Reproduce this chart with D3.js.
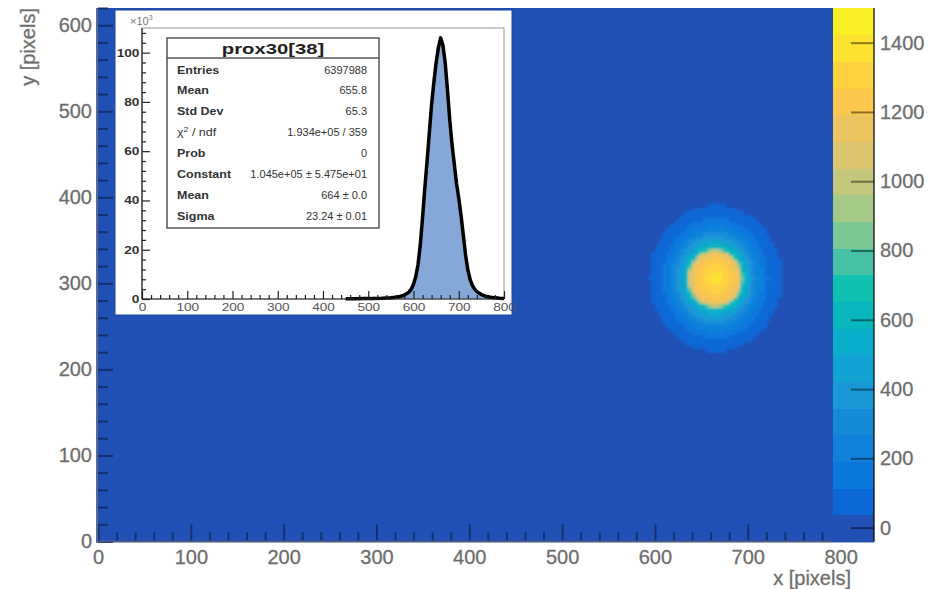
<!DOCTYPE html>
<html>
<head>
<meta charset="utf-8">
<script src="https://cdn.jsdelivr.net/npm/d3@7"></script>
<style>
  body { margin: 0; background: #fff; }
  svg { display: block; }
  text { font-family: "Liberation Sans", Arial, sans-serif; }
</style>
</head>
<body>
<svg id="chart"></svg>
<script>
// main 2D histogram
const xTicks = [0, 100, 200, 300, 400, 500, 600, 700, 800];
const yTicks = [0, 100, 200, 300, 400, 500, 600];
const zTicks = [0, 200, 400, 600, 800, 1000, 1200, 1400];
const paletteColors = [
  '#2151b5', '#0b67d5', '#0b78dd', '#1082db', '#158bd8',
  '#1a98d6', '#10a3d2', '#0aaecb', '#08b7be', '#10c0b0',
  '#47c1a5', '#7bc895', '#a5c987', '#c4c67c', '#dcc470',
  '#ecc460', '#fcc84e', '#fdd240', '#fde232', '#faf026'
];
// spot contours: count level, half width (x) and half height (y) in pixels
const spotCenter = [665, 306];
const spotLevels = [75, 150, 230, 300, 380, 460, 540, 610, 690, 770, 850, 920, 1000, 1080, 1160, 1240, 1320, 1390];
const spotRx = [71, 57, 50, 45, 41, 37.5, 34.5, 32, 30.5, 29.5, 29, 28.5, 28, 27.5, 26, 22, 15, 7];
const spotRy = [85, 70, 61, 55, 50, 45, 41, 38, 35.5, 34, 33.5, 33, 32.5, 32, 30, 25, 17, 8];

// inset: x projection (x10^3)
const histX = [450, 470, 490, 510, 530, 550, 560, 570, 580, 590, 595, 600, 605, 610, 615, 620, 625, 630,
  635, 640, 645, 650, 655, 660, 665, 670, 675, 680, 685, 690, 695, 700, 705, 710, 715, 720, 725, 730,
  735, 740, 750, 760, 770, 780, 790, 800];
const histY = [0.1, 0.1, 0.2, 0.2, 0.3, 0.5, 0.7, 1.0, 1.6, 2.8, 4.0, 6, 9, 14, 22, 33, 45, 56,
  67.5, 79, 88, 96, 102, 106, 103, 96, 85, 73, 63, 55, 47, 41, 34, 26, 18, 12, 8, 5.5,
  4, 3, 1.8, 1.1, 0.7, 0.5, 0.3, 0.2];
const insetXTicks = [0, 100, 200, 300, 400, 500, 600, 700, 800];
const insetYTicks = [0, 20, 40, 60, 80, 100];

const statTitle = 'prox30[38]';
const statNames = ['Entries', 'Mean', 'Std Dev', 'chi2', 'Prob', 'Constant', 'Mean', 'Sigma'];
const statValues = ['6397988', '655.8', '65.3', '1.934e+05 / 359', '0',
  '1.045e+05 \u00b1 5.475e+01', '664 \u00b1 0.0', '23.24 \u00b1 0.01'];

const W = 938, H = 589;
const svg = d3.select('#chart').attr('width', W).attr('height', H);
svg.append('rect').attr('width', W).attr('height', H).attr('fill', '#fff');

const defs = svg.append('defs');
defs.append('filter').attr('id', 'soft')
  .attr('x', '-20%').attr('y', '-20%').attr('width', '140%').attr('height', '140%')
  .append('feGaussianBlur').attr('stdDeviation', 1.1);

const frame = { left: 98, right: 874, top: 8, bottom: 541.5 };
const xScale = d3.scaleLinear().domain([0, 836]).range([frame.left, frame.right]);
const yScale = d3.scaleLinear().domain([0, 620]).range([frame.bottom, frame.top]);
const zScale = d3.scaleQuantize().domain([-40, 1500]).range(paletteColors);

// frame filled with the lowest palette colour (empty bins)
svg.append('rect')
  .attr('x', frame.left).attr('y', frame.top)
  .attr('width', frame.right - frame.left).attr('height', frame.bottom - frame.top)
  .attr('fill', zScale(0));

// spot bins
const bin = 4;
const cells = [];
for (let x = 560; x < 772; x += bin) {
  for (let y = 212; y < 404; y += bin) {
    const dx = x + bin / 2 - spotCenter[0], dy = y + bin / 2 - spotCenter[1];
    let v = null;
    spotLevels.forEach((lv, k) => {
      if ((dx / spotRx[k]) ** 2 + (dy / spotRy[k]) ** 2 <= 1) v = lv;
    });
    if (v !== null) cells.push({ x, y, v });
  }
}
svg.append('g').attr('shape-rendering', 'crispEdges').attr('filter', 'url(#soft)')
  .selectAll('rect').data(cells).enter().append('rect')
  .attr('x', d => xScale(d.x))
  .attr('y', d => yScale(d.y + bin))
  .attr('width', d => xScale(d.x + bin) - xScale(d.x) + 0.4)
  .attr('height', d => yScale(d.y) - yScale(d.y + bin) + 0.4)
  .attr('fill', d => zScale(d.v));

// main axes, ticks inside the frame
const tickCol = '#14306c';
const labelCol = '#6e6e6e';

function styleAxis(g, col, width) {
  g.select('.domain').remove();
  g.selectAll('line').attr('stroke', col).attr('stroke-width', width);
}

const xMinor = d3.range(0, 837, 20).filter(v => v % 100 !== 0);
const yMinor = d3.range(0, 621, 20).filter(v => v % 100 !== 0);

const gxMinor = svg.append('g').attr('transform', `translate(0,${frame.bottom})`)
  .call(d3.axisBottom(xScale).tickValues(xMinor).tickSize(-9).tickFormat(''));
styleAxis(gxMinor, tickCol, 2);
const gx = svg.append('g').attr('transform', `translate(0,${frame.bottom})`)
  .call(d3.axisBottom(xScale).tickValues(xTicks).tickSize(-17).tickPadding(8).tickFormat(d3.format('d')));
styleAxis(gx, tickCol, 2);

const gyMinor = svg.append('g').attr('transform', `translate(${frame.left},0)`)
  .call(d3.axisLeft(yScale).tickValues(yMinor).tickSize(-10).tickFormat(''));
styleAxis(gyMinor, tickCol, 2);
const gy = svg.append('g').attr('transform', `translate(${frame.left},0)`)
  .call(d3.axisLeft(yScale).tickValues(yTicks).tickSize(-15).tickPadding(6).tickFormat(d3.format('d')));
styleAxis(gy, tickCol, 2);

[gx, gy].forEach(g => g.selectAll('text')
  .attr('fill', labelCol).attr('font-size', 20).attr('stroke', labelCol).attr('stroke-width', 0.3)
  .attr('font-family', '"Liberation Sans", Arial, sans-serif'));

svg.append('line').attr('x1', frame.left - 1).attr('x2', frame.left - 1)
  .attr('y1', frame.top).attr('y2', frame.bottom + 1)
  .attr('stroke', '#5b6a94').attr('stroke-width', 2);
svg.append('line').attr('x1', frame.left - 2).attr('x2', frame.right)
  .attr('y1', frame.bottom).attr('y2', frame.bottom)
  .attr('stroke', '#4a5888').attr('stroke-width', 2);

svg.append('text').attr('x', 851).attr('y', 585).attr('text-anchor', 'end')
  .attr('font-size', 20).attr('fill', labelCol).attr('stroke', labelCol).attr('stroke-width', 0.3)
  .text('x [pixels]');
svg.append('text').attr('transform', 'translate(35,8) rotate(-90)').attr('text-anchor', 'end')
  .attr('font-size', 20).attr('fill', labelCol).attr('stroke', labelCol).attr('stroke-width', 0.3)
  .text('y [pixels]');

// colour bar
const cScale = d3.scaleLinear().domain([-40, 1500]).range([frame.bottom, frame.top]);
const edges = [-40, ...zScale.thresholds(), 1500];
svg.append('g').attr('shape-rendering', 'crispEdges')
  .selectAll('rect').data(paletteColors).enter().append('rect')
  .attr('x', 833).attr('width', 41)
  .attr('y', (d, i) => cScale(edges[i + 1]))
  .attr('height', (d, i) => cScale(edges[i]) - cScale(edges[i + 1]) + 0.5)
  .attr('fill', d => d);
const gz = svg.append('g').attr('transform', 'translate(874,0)')
  .call(d3.axisRight(cScale).tickValues(zTicks).tickSize(-23).tickPadding(6).tickFormat(d3.format('d')));
styleAxis(gz, 'rgba(0,0,0,0.45)', 2);
gz.selectAll('text').attr('fill', labelCol).attr('font-size', 20)
  .attr('stroke', labelCol).attr('stroke-width', 0.3)
  .attr('font-family', '"Liberation Sans", Arial, sans-serif');
svg.append('line').attr('x1', 874).attr('x2', 874).attr('y1', frame.top).attr('y2', frame.bottom)
  .attr('stroke', 'rgba(0,0,0,0.6)').attr('stroke-width', 2);

// ---- inset pad ----
const inset = svg.append('g');
inset.append('rect').attr('x', 115).attr('y', 10).attr('width', 397).attr('height', 305)
  .attr('fill', '#fff').attr('stroke', '#1c45a2').attr('stroke-width', 1);

const ix = d3.scaleLinear().domain([0, 800]).range([142, 504]);
const iy = d3.scaleLinear().domain([0, 110]).range([299, 28]);

inset.append('rect').attr('x', 142).attr('y', 28).attr('width', 362).attr('height', 271)
  .attr('fill', 'none').attr('stroke', '#999').attr('stroke-width', 1);

const area = d3.area().x((d, i) => ix(histX[i])).y0(iy(0)).y1(d => iy(d));
const line = d3.line().x((d, i) => ix(histX[i])).y(d => iy(d));
inset.append('path').datum(histY).attr('d', area).attr('fill', '#86a8d9');
inset.append('path').datum(histY).attr('d', line)
  .attr('fill', 'none').attr('stroke', '#000').attr('stroke-width', 3.5).attr('stroke-linejoin', 'round');

const ixMinor = d3.range(0, 801, 20).filter(v => v % 100 !== 0);
const iyMinor = d3.range(0, 109, 4).filter(v => v % 20 !== 0);

const igxm = inset.append('g').attr('transform', 'translate(0,299)')
  .call(d3.axisBottom(ix).tickValues(ixMinor).tickSize(-4).tickFormat(''));
styleAxis(igxm, '#222', 1.2);
const igx = inset.append('g').attr('transform', 'translate(0,299)')
  .call(d3.axisBottom(ix).tickValues(insetXTicks).tickSize(-8).tickPadding(5).tickFormat(d3.format('d')));
styleAxis(igx, '#222', 1.2);
const igym = inset.append('g').attr('transform', 'translate(142,0)')
  .call(d3.axisLeft(iy).tickValues(iyMinor).tickSize(-4).tickFormat(''));
styleAxis(igym, '#222', 1.2);
const igy = inset.append('g').attr('transform', 'translate(142,0)')
  .call(d3.axisLeft(iy).tickValues(insetYTicks).tickSize(-8).tickPadding(2).tickFormat(d3.format('d')));
styleAxis(igy, '#222', 1.2);
igy.selectAll('text')
  .attr('fill', '#333').attr('font-size', 10.5).attr('font-weight', 'bold')
  .attr('font-family', '"Liberation Sans", Arial, sans-serif')
  .attr('transform', 'scale(1.3,1)');
igx.selectAll('text')
  .attr('fill', '#555').attr('font-size', 10.5)
  .attr('font-family', '"Liberation Sans", Arial, sans-serif')
  .attr('transform', 'scale(1.3,1)');

inset.append('line').attr('x1', 142).attr('x2', 504).attr('y1', 299).attr('y2', 299)
  .attr('stroke', '#222').attr('stroke-width', 1.2);
inset.append('line').attr('x1', 142).attr('x2', 142).attr('y1', 28).attr('y2', 299)
  .attr('stroke', '#222').attr('stroke-width', 1.2);

const expo = inset.append('text').attr('x', 130).attr('y', 25).attr('font-size', 11).attr('fill', '#777');
expo.append('tspan').text('\u00d710');
expo.append('tspan').attr('font-size', 7).attr('dy', -5).text('3');

// stats box
const box = { x: 167, y: 38, w: 212, h: 190, titleH: 20 };
const stats = inset.append('g');
stats.append('rect').attr('x', box.x).attr('y', box.y).attr('width', box.w).attr('height', box.h)
  .attr('fill', '#fff').attr('stroke', '#555').attr('stroke-width', 1.5);
stats.append('line').attr('x1', box.x).attr('x2', box.x + box.w)
  .attr('y1', box.y + box.titleH).attr('y2', box.y + box.titleH)
  .attr('stroke', '#555').attr('stroke-width', 1.5);
stats.append('text')
  .attr('transform', `translate(${box.x + box.w / 2},${box.y + 15.5}) scale(1.35,1)`)
  .attr('text-anchor', 'middle').attr('font-size', 15).attr('font-weight', 'bold').attr('fill', '#222')
  .text(statTitle);

const rowY = d3.scaleLinear().domain([0, statNames.length - 1]).range([box.y + 32, box.y + 178.7]);
statNames.forEach((name, i) => {
  const t = stats.append('text')
    .attr('transform', `translate(${box.x + 10},${rowY(i) + 3.5}) scale(1.25,1)`)
    .attr('font-size', 10).attr('font-weight', 'bold').attr('fill', '#333');
  if (name === 'chi2') {
    t.attr('font-weight', 'normal');
    t.append('tspan').text('\u03c7');
    t.append('tspan').attr('font-size', 7).attr('dy', -4).text('2');
    t.append('tspan').attr('dy', 4).text(' / ndf');
  } else {
    t.text(name);
  }
  stats.append('text')
    .attr('transform', `translate(${box.x + 200},${rowY(i) + 3.5}) scale(1.1,1)`)
    .attr('text-anchor', 'end').attr('font-size', 10).attr('fill', '#333')
    .text(statValues[i]);
});
</script>
</body>
</html>
